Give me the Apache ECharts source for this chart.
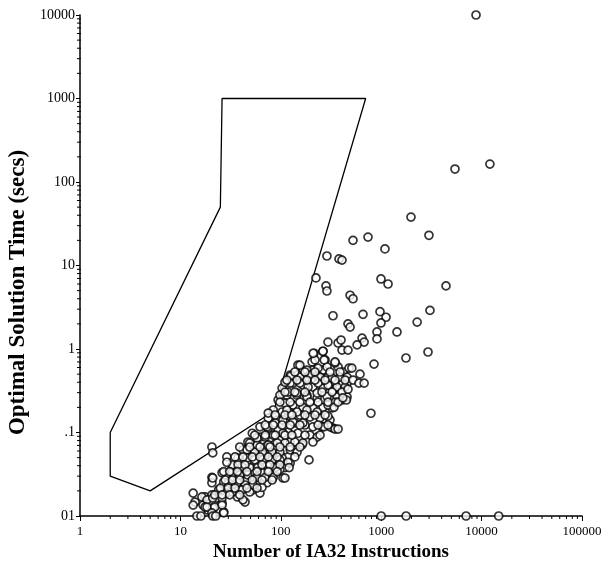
<!DOCTYPE html>
<html>
<head>
<meta charset="utf-8">
<script src="https://cdn.jsdelivr.net/npm/echarts@6/dist/echarts.min.js"></script>
<style>
  html, body { margin: 0; padding: 0; background: #fff; }
  #chart { width: 613px; height: 563px; }
</style>
</head>
<body>
<div id="chart"></div>
<script>
// tick labels, indexed by decade exponent
const xTickText = ['1', '10', '100', '1000', '10000', '100000'];
const yTickText = ['01', '.1', '1', '10', '100', '1000', '10000'];
const minorMult = [2, 3, 4, 5, 6, 7, 8, 9];

// outline polygon (instructions, secs)
const polyX = [2, 2, 5, 85, 700, 26, 25, 2];
const polyY = [0.1, 0.03, 0.02, 0.18, 1000, 1000, 50, 0.1];

// sparse points above the main cloud
const outlierPts = [
  [8800, 10000], [5430, 143], [12100, 164], [1980, 38], [2990, 23], [524, 20], [739, 21.9],
  [1090, 15.8], [288, 13], [380, 12], [407, 11.6], [224, 7.1], [282, 5.7], [288, 4.95],
  [995, 6.9], [1170, 6.0], [4420, 5.7], [490, 4.4], [524, 4.0], [331, 2.5], [659, 2.6],
  [973, 2.8], [1117, 2.4], [995, 2.05], [3060, 2.9], [2280, 2.1], [467, 2.0], [490, 1.83],
  [1436, 1.6], [908, 1.6], [908, 1.32], [295, 1.21], [372, 1.18], [398, 1.28], [645, 1.35],
  [676, 1.21], [575, 1.12], [407, 0.97], [467, 0.97], [2925, 0.92], [1765, 0.78], [848, 0.66],
  [210, 0.89], [263, 0.94], [270, 0.74], [347, 0.70], [510, 0.59], [615, 0.50], [524, 0.425],
  [600, 0.39], [676, 0.39], [467, 0.33], [415, 0.26], [790, 0.17]
];

// points sitting on the 0.01 floor
const floorPts = [
  [14.6, 0.01], [16, 0.01], [21, 0.01], [22.5, 0.01], [1000, 0.01], [1770, 0.01], [7000, 0.01], [14800, 0.01]
];

// main cloud
const clusterPts = [
  [263, 0.94], [214, 0.89], [205, 0.70], [148, 0.64], [166, 0.54], [209, 0.56], [263, 0.56],
  [372, 0.61], [417, 0.53], [478, 0.59], [124, 0.488], [148, 0.488], [187, 0.46], [235, 0.45],
  [289, 0.45], [347, 0.40], [457, 0.39], [132, 0.39], [166, 0.37], [209, 0.35], [263, 0.34],
  [331, 0.32], [407, 0.32], [103, 0.34], [115, 0.28], [145, 0.28], [182, 0.28], [230, 0.26],
  [289, 0.27], [407, 0.245], [94, 0.245], [110, 0.225], [132, 0.213], [166, 0.20], [209, 0.197],
  [263, 0.20], [324, 0.197], [84, 0.186], [103, 0.176], [124, 0.171], [155, 0.162], [195, 0.153],
  [246, 0.153], [309, 0.141], [75, 0.149], [92, 0.141], [110, 0.134], [138, 0.13], [174, 0.123],
  [209, 0.117], [257, 0.117], [331, 0.113], [62, 0.117], [75, 0.113], [94, 0.107], [118, 0.101],
  [148, 0.098], [195, 0.093], [52, 0.098], [62, 0.088], [78, 0.086], [98, 0.081], [124, 0.077],
  [163, 0.071], [47, 0.077], [58, 0.071], [70, 0.067], [88, 0.065], [110, 0.062], [138, 0.062],
  [42, 0.062], [52, 0.057], [65, 0.054], [82, 0.051], [103, 0.0495], [124, 0.043], [191, 0.047],
  [37.5, 0.0495], [46, 0.044], [58, 0.043], [73, 0.041], [92, 0.039], [110, 0.038], [33, 0.039],
  [41, 0.036], [52, 0.034], [65, 0.033], [82, 0.031], [98, 0.036], [105, 0.0285], [30, 0.033],
  [37, 0.029], [46, 0.027], [58, 0.0255], [73, 0.025], [27, 0.0255], [33, 0.0235], [41, 0.0216],
  [52, 0.0205], [62, 0.0188], [25, 0.0205], [29, 0.0188], [37, 0.0169], [44, 0.0147], [23, 0.0164],
  [26, 0.0143], [21, 0.0125], [27, 0.0112], [21, 0.0103],
  [13.4, 0.0188], [14, 0.0147], [17.6, 0.0169], [16.8, 0.0135], [20.6, 0.0179], [18.8, 0.0118],
  [28.5, 0.031], [29, 0.051], [20.6, 0.067], [21, 0.057], [20.6, 0.029], [20.6, 0.025], [26, 0.033],
  [13.4, 0.0135], [16.4, 0.0169], [18.4, 0.0156], [17.6, 0.0128],
  [276, 0.74], [347, 0.68], [219, 0.74], [155, 0.64], [182, 0.56], [235, 0.59], [289, 0.61],
  [126, 0.474], [155, 0.46], [195, 0.488], [246, 0.46], [324, 0.45], [389, 0.46], [457, 0.46],
  [124, 0.39], [155, 0.39], [187, 0.35], [235, 0.39], [295, 0.37], [363, 0.35], [437, 0.35],
  [98, 0.28], [118, 0.305], [145, 0.297], [182, 0.266], [230, 0.297], [363, 0.266], [457, 0.266],
  [110, 0.40], [75, 0.171], [115, 0.186], [145, 0.176], [182, 0.186], [230, 0.176], [295, 0.213],
  [347, 0.231], [246, 0.149], [309, 0.117], [347, 0.11], [166, 0.13], [132, 0.134], [105, 0.141],
  [88, 0.13], [73, 0.117], [58, 0.086], [70, 0.088], [84, 0.093], [105, 0.098], [230, 0.088],
  [138, 0.077], [166, 0.075], [209, 0.077], [110, 0.075], [92, 0.075], [75, 0.071], [49, 0.075],
  [46, 0.062], [55, 0.058], [66, 0.058], [82, 0.058], [98, 0.058], [124, 0.062], [145, 0.058],
  [118, 0.044], [98, 0.047], [82, 0.047], [66, 0.047], [55, 0.047], [46, 0.0495], [33, 0.041],
  [41, 0.039], [49, 0.038], [59, 0.038], [88, 0.038], [121, 0.038], [29, 0.044], [27, 0.034],
  [33, 0.033], [39, 0.031], [47, 0.031], [58, 0.029], [70, 0.029], [84, 0.029], [110, 0.0285],
  [21, 0.0285], [30, 0.025], [37, 0.025], [44, 0.0235], [53, 0.0235], [65, 0.022], [24, 0.0205],
  [28, 0.0188], [33, 0.0194], [41, 0.0205], [49, 0.0194], [21, 0.0164], [26, 0.0164], [42, 0.0156],
  [18.4, 0.0128], [22, 0.0128], [26, 0.0135], [20.6, 0.0109], [27, 0.0109],
  [269, 0.117], [372, 0.11], [339, 0.20], [295, 0.157], [450, 0.245],
  [138, 0.53], [174, 0.53], [219, 0.53], [309, 0.53], [389, 0.53],
  [115, 0.425], [145, 0.425], [182, 0.425], [219, 0.425], [276, 0.425], [347, 0.425], [437, 0.425],
  [110, 0.305], [138, 0.305], [174, 0.305], [257, 0.305], [324, 0.305], [407, 0.305],
  [98, 0.231], [124, 0.231], [155, 0.231], [195, 0.231], [235, 0.231], [295, 0.231], [372, 0.231],
  [88, 0.162], [110, 0.162], [129, 0.162], [174, 0.162], [219, 0.162], [276, 0.162],
  [70, 0.123], [84, 0.123], [103, 0.123], [124, 0.123], [155, 0.123], [235, 0.123], [295, 0.123],
  [55, 0.093], [70, 0.093], [88, 0.093], [110, 0.093], [129, 0.093], [174, 0.093], [246, 0.093],
  [39, 0.067], [49, 0.067], [62, 0.067], [78, 0.067], [98, 0.067], [124, 0.067], [155, 0.067],
  [35, 0.051], [42, 0.051], [52, 0.051], [62, 0.051], [75, 0.051], [92, 0.051], [138, 0.051],
  [37.5, 0.041], [44, 0.041], [65, 0.041], [78, 0.041], [98, 0.041],
  [31, 0.034], [37, 0.034], [46, 0.034], [58, 0.034], [75, 0.034], [92, 0.034],
  [28, 0.027], [33, 0.027], [39, 0.027], [52, 0.027], [65, 0.027], [82, 0.027],
  [25, 0.0216], [30, 0.0216], [35, 0.0216], [46, 0.0216], [58, 0.0216],
  [22, 0.0179], [26, 0.0179], [31, 0.0179], [39, 0.0179]
];

const xMinor = [];
const yMinor = [];
for (let e = 0; e < 5; e++) minorMult.forEach((m) => xMinor.push([m * Math.pow(10, e), 0.01]));
for (let e = -2; e < 4; e++) minorMult.forEach((m) => yMinor.push([1, m * Math.pow(10, e)]));

const serif = 'Liberation Serif';
const black = '#000';

const chart = echarts.init(document.getElementById('chart'));

const tickSeries = (data, dir) => ({
  type: 'custom',
  silent: true,
  clip: false,
  data: data,
  z: 1,
  renderItem: (params, api) => {
    const p = api.coord([api.value(0), api.value(1)]);
    const shape = dir === 'x'
      ? { x1: p[0], y1: p[1], x2: p[0], y2: p[1] + 3 }
      : { x1: p[0] - 3, y1: p[1], x2: p[0] + 1, y2: p[1] };
    return { type: 'line', shape: shape, style: { stroke: black, lineWidth: 1 } };
  },
});

const dotStyle = {
  color: '#fff',
  borderColor: black,
  borderWidth: 1.7,
};

chart.setOption({
  animation: false,
  backgroundColor: '#fff',
  grid: {
    left: 80,
    right: 31,
    top: 15,
    bottom: 47,
    containLabel: false,
    outerBoundsMode: 'none',
  },
  xAxis: {
    type: 'log',
    logBase: 10,
    min: 1,
    max: 100000,
    name: 'Number of IA32 Instructions',
    nameLocation: 'middle',
    nameGap: 27,
    nameTextStyle: { fontFamily: serif, fontWeight: 'bold', fontSize: 19, color: black },
    axisLine: { lineStyle: { color: black, width: 1.5 } },
    axisTick: { length: 5, lineStyle: { color: black, width: 1 } },
    axisLabel: {
      margin: 9,
      fontFamily: serif,
      fontSize: 13,
      color: black,
      formatter: (v) => xTickText[Math.round(Math.log10(v))],
    },
    splitLine: { show: false },
  },
  yAxis: {
    type: 'log',
    logBase: 10,
    min: 0.01,
    max: 10000,
    name: 'Optimal Solution Time (secs)',
    nameLocation: 'middle',
    nameRotate: 90,
    nameGap: 49,
    nameTextStyle: {
      fontFamily: serif, fontWeight: 'bold', fontSize: 23, color: black,
      padding: [0, 54, 0, 0],
    },
    axisLine: { lineStyle: { color: black, width: 1.5 } },
    axisTick: { length: 4, lineStyle: { color: black, width: 1 } },
    axisLabel: {
      margin: 5,
      fontFamily: serif,
      fontSize: 14,
      color: black,
      formatter: (v) => yTickText[Math.round(Math.log10(v)) + 2],
    },
    splitLine: { show: false },
  },
  series: [
    tickSeries(xMinor, 'x'),
    tickSeries(yMinor, 'y'),
    {
      type: 'line',
      data: polyX.map((x, i) => [x, polyY[i]]),
      showSymbol: false,
      silent: true,
      z: 2,
      lineStyle: { color: black, width: 1.3 },
    },
    {
      type: 'scatter',
      data: clusterPts.concat(outlierPts, floorPts),
      symbol: 'circle',
      symbolSize: 8,
      clip: false,
      z: 3,
      itemStyle: dotStyle,
    },
  ],
});
</script>
</body>
</html>
